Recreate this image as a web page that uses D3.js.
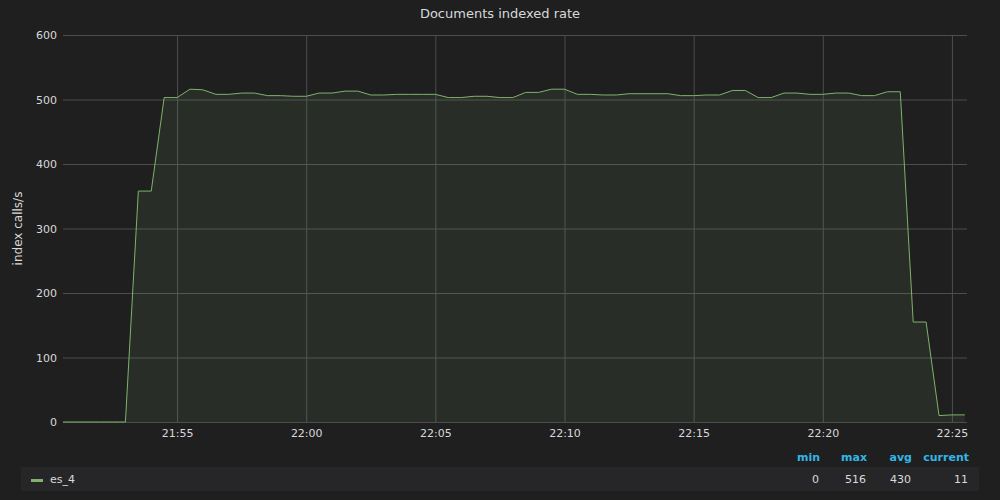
<!DOCTYPE html>
<html>
<head>
<meta charset="utf-8">
<script src="https://cdn.jsdelivr.net/npm/d3@7"></script>
<style>
  body { margin: 0; background: #1f1f20; }
  svg text { font-family: "DejaVu Sans", sans-serif; }
</style>
</head>
<body>
<div id="stage_id"></div>
<script>
// 30 second samples, es_4 index rate
var sampleStart = "21:50:30";
var stepSeconds = 30;
var rateValues = [
  0, 0, 0, 0, 0, 0,            // 21:50:30 - 21:53:00
  358, 358, 503, 503, 516, 515, 508, 508, 510, 510,
  506, 506, 505, 505, 510, 510, 513, 513, 507, 507,
  508, 508, 508, 508, 503, 503, 505, 505, 503, 503,
  511, 511, 516, 516, 508, 508, 507, 507, 509, 509,
  509, 509, 506, 506, 507, 507, 514, 514, 503, 503,
  510, 510, 508, 508, 510, 510, 506, 506, 512, 512,
  155, 155, 10, 11, 11         // 22:23:30 - 22:25:30
];

var yTicks = [0, 100, 200, 300, 400, 500, 600];
var xTickLabels = ["21:55", "22:00", "22:05", "22:10", "22:15", "22:20", "22:25"];
var domainTimes = ["21:50:35", "22:25:35"];

var legendHeaders = ["min", "max", "avg", "current"];
var legendStats = [0, 516, 430, 11];
var seriesName = "es_4";

var chartTitle = "Documents indexed rate";
var yLabel = "index calls/s";

var W = 1000, H = 500;
var margin = {top: 35, right: 33, bottom: 78, left: 63};
var width = W - margin.left - margin.right;
var height = H - margin.top - margin.bottom;

var parseT = d3.timeParse("%H:%M:%S");
var parseHM = d3.timeParse("%H:%M");

var t0 = parseT(sampleStart);
var points = rateValues.map(function(v, i) {
  return {t: new Date(t0.getTime() + i * stepSeconds * 1000), v: v};
});

var xScale = d3.scaleTime()
  .domain(domainTimes.map(parseT))
  .range([0, width]);

var yScale = d3.scaleLinear()
  .domain([0, 600])
  .range([height, 0]);

var svg = d3.select("#stage_id").append("svg")
  .attr("width", W)
  .attr("height", H);

svg.append("rect").attr("width", W).attr("height", H).attr("fill", "#1f1f20");

var g = svg.append("g").attr("transform", "translate(" + margin.left + "," + margin.top + ")");

g.append("clipPath").attr("id", "clip")
  .append("rect").attr("width", width).attr("height", height + 1);

// grid + axes
var xAxis = d3.axisBottom(xScale)
  .tickValues(xTickLabels.map(parseHM))
  .tickFormat(d3.timeFormat("%H:%M"))
  .tickSize(-height)
  .tickPadding(7);

var yAxis = d3.axisLeft(yScale)
  .tickValues(yTicks)
  .tickSize(-width)
  .tickPadding(6);

var gX = g.append("g")
  .attr("transform", "translate(0," + height + ")")
  .call(xAxis);

var gY = g.append("g").call(yAxis);

[gX, gY].forEach(function(ax) {
  ax.select(".domain").remove();
  ax.selectAll(".tick line").attr("stroke", "#4d4d4f").attr("stroke-width", 1);
  ax.selectAll(".tick text").attr("fill", "#d8d9da").style("font-size", "11px");
});

// area + line
var area = d3.area()
  .x(function(d) { return xScale(d.t); })
  .y0(yScale(0))
  .y1(function(d) { return yScale(d.v); });

var line = d3.line()
  .x(function(d) { return xScale(d.t); })
  .y(function(d) { return yScale(d.v); });

g.append("path")
  .datum(points)
  .attr("clip-path", "url(#clip)")
  .attr("d", area)
  .attr("fill", "#7eb26d")
  .attr("fill-opacity", 0.1);

g.append("path")
  .datum(points)
  .attr("clip-path", "url(#clip)")
  .attr("d", line)
  .attr("fill", "none")
  .attr("stroke", "#7eb26d")
  .attr("stroke-width", 1);

// title
svg.append("text")
  .attr("x", W / 2)
  .attr("y", 18)
  .attr("text-anchor", "middle")
  .attr("fill", "#d8d9da")
  .style("font-size", "13px")
  .text(chartTitle);

svg.append("text")
  .attr("transform", "translate(22," + (margin.top + height / 2) + ") rotate(-90)")
  .attr("text-anchor", "middle")
  .attr("fill", "#d8d9da")
  .style("font-size", "12px")
  .text(yLabel);

// legend
var legendRight = [820, 867, 912, 969];
svg.append("rect")
  .attr("x", 21).attr("y", 467)
  .attr("width", 958).attr("height", 24)
  .attr("fill", "#262628");

svg.selectAll(".lh")
  .data(legendHeaders)
  .enter().append("text")
  .attr("x", function(d, i) { return legendRight[i]; })
  .attr("y", 461)
  .attr("text-anchor", "end")
  .attr("fill", "#33b5e5")
  .style("font-size", "11px")
  .style("font-weight", "bold")
  .text(function(d) { return d; });

svg.selectAll(".lv")
  .data(legendStats)
  .enter().append("text")
  .attr("x", function(d, i) { return legendRight[i] - 1; })
  .attr("y", 483)
  .attr("text-anchor", "end")
  .attr("fill", "#d8d9da")
  .style("font-size", "11px")
  .text(function(d) { return d; });

svg.append("rect")
  .attr("x", 31).attr("y", 479)
  .attr("width", 12).attr("height", 3)
  .attr("fill", "#7eb26d");

svg.append("text")
  .attr("x", 50).attr("y", 483)
  .attr("fill", "#d8d9da")
  .style("font-size", "11px")
  .text(seriesName);
</script>
</body>
</html>
